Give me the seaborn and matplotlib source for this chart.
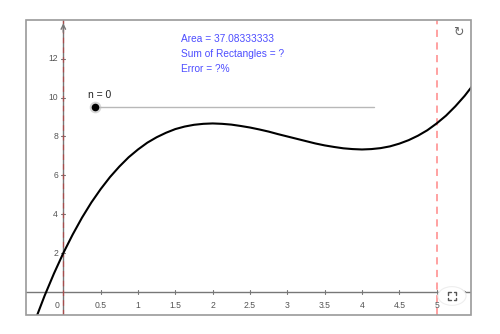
import matplotlib
matplotlib.use("Agg")
import matplotlib.pyplot as plt
import seaborn as sns
import pandas as pd
from matplotlib.patches import Rectangle, Circle
from matplotlib.lines import Line2D

# ---- data ----
x_vals = [-0.5, -0.375, -0.25, -0.125, 0.0, 0.125, 0.25, 0.375, 0.5, 0.625, 0.75, 0.875,
          1.0, 1.125, 1.25, 1.375, 1.5, 1.625, 1.75, 1.875, 2.0, 2.125, 2.25, 2.375,
          2.5, 2.625, 2.75, 2.875, 3.0, 3.125, 3.25, 3.375, 3.5, 3.625, 3.75, 3.875,
          4.0, 4.125, 4.25, 4.375, 4.5, 4.625, 4.75, 4.875, 5.0, 5.125, 5.25, 5.375, 5.5]
y_vals = [-2.79, -1.44, -0.19, 0.95, 2.0, 2.95, 3.82, 4.60, 5.29, 5.91, 6.45, 6.93,
          7.33, 7.68, 7.96, 8.19, 8.38, 8.51, 8.60, 8.65, 8.67, 8.65, 8.61, 8.54,
          8.46, 8.36, 8.25, 8.12, 8.00, 7.88, 7.76, 7.64, 7.54, 7.46, 7.39, 7.35,
          7.33, 7.35, 7.40, 7.49, 7.63, 7.81, 8.04, 8.32, 8.67, 9.07, 9.55, 10.09, 10.71]
x_ticks = [0.5, 1, 1.5, 2, 2.5, 3, 3.5, 4, 4.5, 5]
x_tick_labels = ["0.5", "1", "1.5", "2", "2.5", "3", "3.5", "4", "4.5", "5"]
y_ticks = [2, 4, 6, 8, 10, 12]
y_tick_labels = ["2", "4", "6", "8", "10", "12"]
bound_a, bound_b = 0, 5
info_lines = ["Area = 37.08333333", "Sum of Rectangles = ?", "Error = ?%"]
slider_label = "n = 0"
slider_start, slider_end, slider_y = 0.42, 4.16, 9.54

sns.set_theme(style="white")
plt.rcParams['font.family'] = ['Liberation Sans', 'DejaVu Sans']

fig = plt.figure(figsize=(5.0, 3.34), dpi=100)
ax = fig.add_axes([0.052, 0.0569, 0.89, 0.8847])
xlo, xhi, ylo, yhi = -0.5, 5.46, -1.19, 14.02
ax.set_xlim(xlo, xhi)
ax.set_ylim(ylo, yhi)

for s in ax.spines.values():
    s.set_visible(False)
ax.add_patch(Rectangle((0, 0), 1, 1, transform=ax.transAxes, fill=False,
                       edgecolor="#9a9a9a", linewidth=1.2, zorder=10, clip_on=False))

# axes lines
ax.axhline(0, color="#777777", linewidth=1.0, zorder=1)
ax.axvline(0, color="#777777", linewidth=1.0, zorder=1)
ax.annotate("", xy=(xhi - 0.02, 0), xytext=(xhi - 0.15, 0),
            arrowprops=dict(arrowstyle="->", color="#777777", lw=1.0, mutation_scale=8))
ax.annotate("", xy=(0, yhi - 0.05), xytext=(0, yhi - 0.8),
            arrowprops=dict(arrowstyle="->", color="#777777", lw=1.0, mutation_scale=8))

# ticks drawn as tiny marks on the axes
ax.set_xticks([])
ax.set_yticks([])
for xt, lab in zip(x_ticks, x_tick_labels):
    ax.plot([xt, xt], [-0.1, 0.1], color="#777777", lw=0.8, zorder=1)
    ax.text(xt, -0.45, lab, ha="center", va="top", fontsize=6.2, color="#555555")
ax.text(-0.09, -0.45, "0", ha="center", va="top", fontsize=6.2, color="#555555")
for yt, lab in zip(y_ticks, y_tick_labels):
    ax.plot([-0.025, 0.025], [yt, yt], color="#777777", lw=0.8, zorder=1)
    ax.text(-0.07, yt, lab, ha="right", va="center", fontsize=6.2, color="#555555")

# bounds
ax.axvline(bound_a, color="#ff0000", alpha=0.35, linewidth=1.0, linestyle=(0, (4, 3)), zorder=2)
ax.axvline(bound_b, color="#ff0000", alpha=0.4, linewidth=1.3, linestyle=(0, (4, 3)), zorder=2)

# curve
df = pd.DataFrame({"x": x_vals, "y": y_vals})
sns.lineplot(data=df, x="x", y="y", ax=ax, color="black", linewidth=1.5,
             sort=False, estimator=None, zorder=5)
ax.set_xlabel("")
ax.set_ylabel("")

# slider
ax.plot([slider_start, slider_end], [slider_y, slider_y], color="#b8b8b8", lw=1.0, zorder=3)
ax.scatter([slider_start], [slider_y], s=70, color="#bbbbbb", alpha=0.6, zorder=4, linewidths=0)
ax.scatter([slider_start], [slider_y], s=30, color="black", zorder=5, linewidths=0)
fig.text(100 / 500, 1 - 95 / 334, slider_label, ha="center", va="center",
         fontsize=7.5, color="#222222")

# info text
for i, line in enumerate(info_lines):
    fig.text(181 / 500, 1 - (39 + 15 * i) / 334, line, ha="left", va="center",
             fontsize=7.3, color="#4d4dff")

# icons
fig.text(458 / 500, 1 - 32 / 334, "\u21bb", ha="center", va="center",
         fontsize=9, color="#666666", family=['DejaVu Sans'])
cx, cy = 452, 296
fig.patches.append(Circle((cx / 500, 1 - cy / 334), 0.028, transform=fig.transFigure,
                          facecolor="white", edgecolor="#eeeeee", linewidth=0.8, zorder=20))
d, L = 4, 2.5
for sx in (-1, 1):
    for sy in (-1, 1):
        px, py = cx + sx * d, cy + sy * d
        fig.lines.append(Line2D([px / 500, px / 500, (px - sx * L) / 500],
                                [1 - (py - sy * L) / 334, 1 - py / 334, 1 - py / 334],
                                transform=fig.transFigure, color="#555555", lw=1.0, zorder=21))

fig.savefig("out.png", dpi=100)
